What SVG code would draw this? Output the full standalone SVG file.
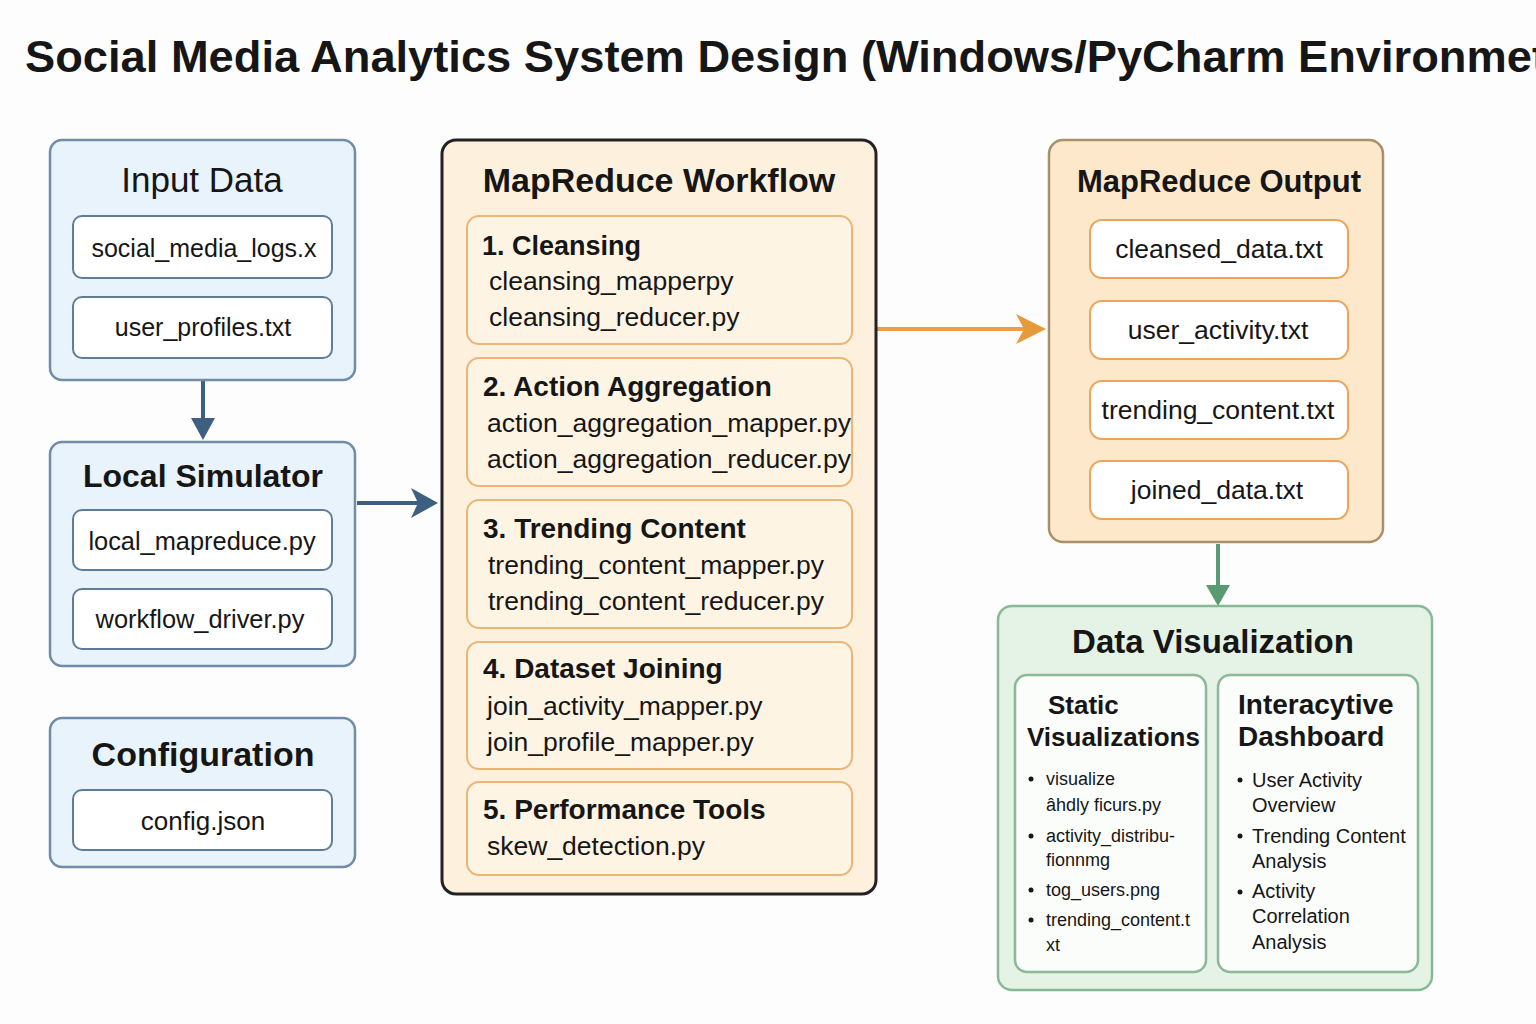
<svg xmlns="http://www.w3.org/2000/svg" width="1536" height="1024" viewBox="0 0 1536 1024">
<style>
text{font-family:"Liberation Sans",Arial,sans-serif;fill:#161616}
.title{font-size:44px;font-weight:bold}
.blue{fill:#e9f3fc;stroke:#6f8ca8;stroke-width:2.5}
.bin{fill:#ffffff;stroke:#5f7d99;stroke-width:2}
.wf{fill:#fdf1de;stroke:#222222;stroke-width:3}
.step{fill:#fef4e4;stroke:#ebb578;stroke-width:2}
.out{fill:#fde8cb;stroke:#a8916a;stroke-width:2.5}
.oin{fill:#ffffff;stroke:#eba45c;stroke-width:2}
.green{fill:#e4f3e6;stroke:#89b895;stroke-width:2.5}
.gin{fill:#fbfdfb;stroke:#8bb897;stroke-width:2.5}
.h{font-size:32px;font-weight:bold}
.hr{font-size:35px}
.sh{font-size:28px;font-weight:bold}
.f{font-size:26.5px}
.fc{font-size:25px;text-anchor:middle}
.c{text-anchor:middle}
.s{font-size:18px}
.d{font-size:20px}
</style>
<rect width="1536" height="1024" fill="#fdfdfd"/>
<text class="title" x="25" y="72" textLength="1522" lengthAdjust="spacingAndGlyphs">Social Media Analytics System Design (Windows/PyCharm Environmet</text>

<g id="connectors">
<line x1="203" y1="380" x2="203" y2="422" stroke="#3d5f80" stroke-width="4"/>
<polygon points="191,418 215,418 203,440" fill="#3d5f80"/>
<line x1="357" y1="503" x2="418" y2="503" stroke="#3d5f80" stroke-width="4"/>
<polygon points="411,488 438,503 411,518 418,503" fill="#3d5f80"/>
<line x1="877" y1="329" x2="1025" y2="329" stroke="#eaa04a" stroke-width="4"/>
<polygon points="1016,314 1046,329 1016,344 1024,329" fill="#e69a3c"/>
<line x1="1218" y1="544" x2="1218" y2="590" stroke="#5a9a70" stroke-width="4"/>
<polygon points="1206,585 1230,585 1218,606" fill="#5a9a70"/>
</g>

<g id="input-data">
<rect class="blue" x="50" y="140" width="305" height="240" rx="12"/>
<text class="hr c" x="202" y="192">Input Data</text>
<rect class="bin" x="73" y="216" width="259" height="62" rx="9"/>
<text class="fc" x="204" y="257">social_media_logs.x</text>
<rect class="bin" x="73" y="297" width="259" height="61" rx="9"/>
<text class="fc" x="203" y="336">user_profiles.txt</text>
</g>

<g id="local-simulator">
<rect class="blue" x="50" y="442" width="305" height="224" rx="12"/>
<text class="h c" x="203" y="487">Local Simulator</text>
<rect class="bin" x="73" y="510" width="259" height="60" rx="9"/>
<text class="fc" x="202" y="550" style="font-size:25.4px">local_mapreduce.py</text>
<rect class="bin" x="73" y="589" width="259" height="60" rx="9"/>
<text class="fc" x="200" y="628" style="font-size:25.4px">workflow_driver.py</text>
</g>

<g id="configuration">
<rect class="blue" x="50" y="718" width="305" height="149" rx="12"/>
<text class="h c" x="203" y="766" style="font-size:34px">Configuration</text>
<rect class="bin" x="73" y="790" width="259" height="60" rx="9"/>
<text class="fc" x="203" y="830" style="font-size:26px">config.json</text>
</g>

<g id="mapreduce-workflow">
<rect class="wf" x="442" y="140" width="434" height="754" rx="14"/>
<text class="h c" x="659" y="192" style="font-size:34px">MapReduce Workflow</text>
<rect class="step" x="467" y="216" width="385" height="128" rx="12"/>
<text class="sh" x="482" y="255" style="font-size:27px">1. Cleansing</text>
<text class="f" x="489" y="290">cleansing_mapperpy</text>
<text class="f" x="489" y="326">cleansing_reducer.py</text>
<rect class="step" x="467" y="358" width="385" height="128" rx="12"/>
<text class="sh" x="483" y="396">2. Action Aggregation</text>
<text class="f" x="487" y="432">action_aggregation_mapper.py</text>
<text class="f" x="487" y="468">action_aggregation_reducer.py</text>
<rect class="step" x="467" y="500" width="385" height="128" rx="12"/>
<text class="sh" x="483" y="538">3. Trending Content</text>
<text class="f" x="488" y="574">trending_content_mapper.py</text>
<text class="f" x="488" y="610">trending_content_reducer.py</text>
<rect class="step" x="467" y="642" width="385" height="127" rx="12"/>
<text class="sh" x="483" y="678">4. Dataset Joining</text>
<text class="f" x="487" y="715">join_activity_mapper.py</text>
<text class="f" x="487" y="751">join_profile_mapper.py</text>
<rect class="step" x="467" y="782" width="385" height="93" rx="12"/>
<text class="sh" x="483" y="819">5. Performance Tools</text>
<text class="f" x="487" y="855">skew_detection.py</text>
</g>

<g id="mapreduce-output">
<rect class="out" x="1049" y="140" width="334" height="402" rx="14"/>
<text class="h c" x="1219" y="192" style="font-size:31px">MapReduce Output</text>
<rect class="oin" x="1090" y="220" width="258" height="58" rx="12"/>
<text class="f c" x="1219" y="258">cleansed_data.txt</text>
<rect class="oin" x="1090" y="301" width="258" height="58" rx="12"/>
<text class="f c" x="1218" y="339">user_activity.txt</text>
<rect class="oin" x="1090" y="381" width="258" height="58" rx="12"/>
<text class="f c" x="1218" y="419">trending_content.txt</text>
<rect class="oin" x="1090" y="461" width="258" height="58" rx="12"/>
<text class="f c" x="1217" y="499">joined_data.txt</text>
</g>

<g id="data-visualization">
<rect class="green" x="998" y="606" width="434" height="384" rx="14"/>
<text class="h c" x="1213" y="653" style="font-size:33px">Data Visualization</text>
<rect class="gin" x="1015" y="675" width="191" height="297" rx="12"/>
<text class="sh" x="1048" y="714" style="font-size:26px">Static</text>
<text class="sh" x="1027" y="746" style="font-size:26px">Visualizations</text>
<circle cx="1031" cy="779" r="2.5" fill="#161616"/>
<text class="s" x="1046" y="785">visualize</text>
<text class="s" x="1046" y="811">âhdly ficurs.py</text>
<circle cx="1031" cy="836" r="2.5" fill="#161616"/>
<text class="s" x="1046" y="842">activity_distribu-</text>
<text class="s" x="1046" y="866">fionnmg</text>
<circle cx="1031" cy="890" r="2.5" fill="#161616"/>
<text class="s" x="1046" y="896">tog_users.png</text>
<circle cx="1031" cy="920" r="2.5" fill="#161616"/>
<text class="s" x="1046" y="926">trending_content.t</text>
<text class="s" x="1046" y="951">xt</text>
<rect class="gin" x="1218" y="675" width="200" height="297" rx="12"/>
<text class="sh" x="1238" y="714">Interacytive</text>
<text class="sh" x="1238" y="746">Dashboard</text>
<circle cx="1240" cy="780" r="2.5" fill="#161616"/>
<text class="d" x="1252" y="787">User Activity</text>
<text class="d" x="1252" y="812">Overview</text>
<circle cx="1240" cy="836" r="2.5" fill="#161616"/>
<text class="d" x="1252" y="843">Trending Content</text>
<text class="d" x="1252" y="868">Analysis</text>
<circle cx="1240" cy="892" r="2.5" fill="#161616"/>
<text class="d" x="1252" y="898">Activity</text>
<text class="d" x="1252" y="923">Correlation</text>
<text class="d" x="1252" y="949">Analysis</text>
</g>
</svg>
